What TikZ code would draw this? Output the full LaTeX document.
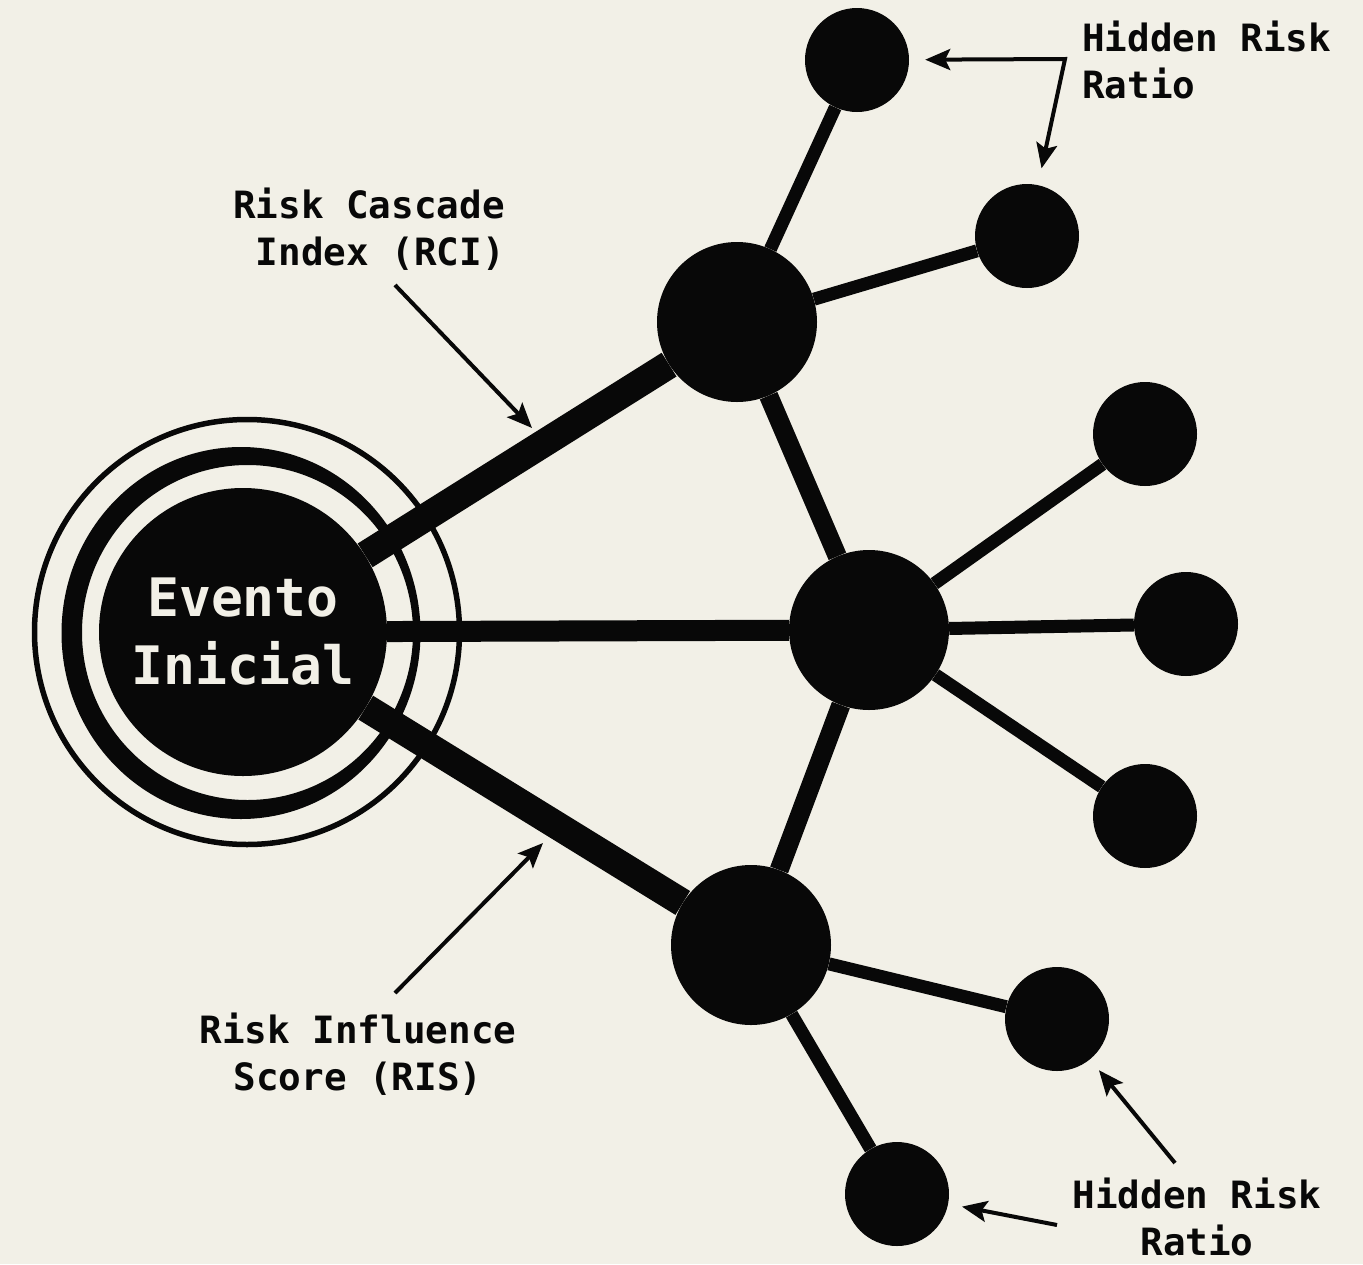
\documentclass[tikz,border=0pt]{standalone}
\usepackage{fontspec}
\setmonofont{DejaVu Sans Mono}
\usetikzlibrary{arrows.meta}
\definecolor{bg}{RGB}{242,240,231}
\definecolor{ink}{RGB}{8,8,8}
\tikzset{ptip/.tip={Stealth[length=25pt,width=21pt,inset=5pt]}}
\begin{document}
\begin{tikzpicture}[x=1pt,y=-1pt,
  hub/.style={circle,fill=ink,inner sep=0pt,minimum size=160pt},
  leaf/.style={circle,fill=ink,inner sep=0pt,minimum size=104pt},
  thickedge/.style={draw=ink,line width=28pt},
  midedge/.style={draw=ink,line width=19pt},
  thinedge/.style={draw=ink,line width=13pt},
  lbl/.style={font=\ttfamily\bfseries\fontsize{37.6}{47}\selectfont,text=ink,inner sep=0pt},
  ptr/.style={draw=ink,line width=4pt,-{ptip}}
]
\fill[bg] (0,0) rectangle (1363,1264);
\useasboundingbox (0,0) rectangle (1363,1264);

% rings of the initial event
\draw[ink,line width=5.5pt] (247,632) circle[radius=212.5];
\fill[ink,even odd rule] (241,633) ellipse[x radius=179.5,y radius=186]
                         (247.5,632.5) ellipse[x radius=165.5,y radius=167.5];

% nodes
\node[circle,fill=ink,minimum size=288pt,inner sep=0pt,text=bg,align=center,
      font=\ttfamily\bfseries\fontsize{53}{68}\selectfont] (c) at (243,632) {Evento\\Inicial};
\node[hub] (A) at (737,322) {};
\node[hub] (B) at (869,630) {};
\node[hub] (C) at (751,945) {};
\node[leaf] (l1) at (857,60) {};
\node[leaf] (l2) at (1027,236) {};
\node[leaf] (l3) at (1145,434) {};
\node[leaf] (l4) at (1186,624) {};
\node[leaf] (l5) at (1145,816) {};
\node[leaf] (l6) at (1057,1019) {};
\node[leaf] (l7) at (897,1194) {};

% connectors
\draw[thickedge] (c) -- (A);
\draw[thickedge] (c) -- (C);
\draw[draw=ink,line width=21pt] (c) -- (B);
\draw[midedge] (A) -- (B);
\draw[midedge] (B) -- (C);
\draw[thinedge] (A) -- (l1);
\draw[thinedge] (A) -- (l2);
\draw[thinedge] (B) -- (l3);
\draw[thinedge] (B) -- (l4);
\draw[thinedge] (B) -- (l5);
\draw[thinedge] (C) -- (l6);
\draw[thinedge] (C) -- (l7);

% labels (base anchor = baseline of the last line)
\node[lbl,align=right,anchor=base east] (rci) at (505,265) {Risk Cascade\\Index (RCI)};
\node[lbl,align=center,anchor=base] (ris) at (358,1090) {Risk Influence\\Score (RIS)};
\node[lbl,align=left,anchor=base west] (hrt) at (1082,98) {Hidden Risk\\Ratio};
\node[lbl,align=center,anchor=base] (hrb) at (1197,1255) {Hidden Risk\\Ratio};

% pointers
\coordinate (rciT) at (395,285);
\coordinate (rciH) at (532,428);
\draw[ptr] (rciT) -- (rciH);
\coordinate (risT) at (395,993);
\coordinate (risH) at (543,843);
\draw[ptr] (risT) -- (risH);
\coordinate (hrtK) at (1065,59);
\draw[draw=ink,line width=4pt,{ptip}-{ptip},shorten <=16pt,shorten >=17pt] (l1) -- (hrtK) -- (l2);
\coordinate (hrbA) at (1175,1163);
\coordinate (hrbB) at (1057,1225);
\draw[ptr,shorten >=14pt] (hrbA) -- (l6);
\draw[ptr,shorten >=14pt] (hrbB) -- (l7);
\end{tikzpicture}
\end{document}
